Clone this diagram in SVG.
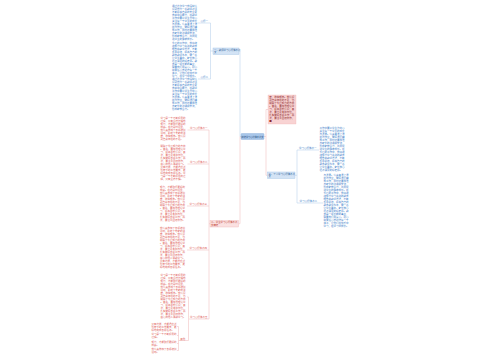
<svg xmlns="http://www.w3.org/2000/svg" width="500" height="360" viewBox="0 0 500 360">
<style>
text{font-family:"Noto Sans CJK SC","Noto Sans",sans-serif;font-size:10px;}
.bt{fill:#3d7ec9}
.rt{fill:#e0605a}
.dt{fill:#8f2b2b}
.nbt{fill:#2f5f96}
.nrt{fill:#c0392b}
.cb{stroke:#bcd3ec;stroke-width:0.6;fill:none}
.cr{stroke:#f2c2c2;stroke-width:0.6;fill:none}
.nb{fill:#d3e3f5;stroke:#9fc0e4;stroke-width:0.4}
.nr{fill:#fbe1e1;stroke:#f0b4b4;stroke-width:0.4}
</style>
<rect width="500" height="360" fill="#ffffff"/>
<g id="connectors">
<path class="cb" d="M241,136.5H240M240,51V136.5M240,51H239"/>
<path class="cr" d="M240,136.5V223.7H238.5"/>
<path class="cr" d="M264,136.5H266V109.5H268M266,136.5V175.3H267.5"/>
<path class="cb" d="M213,51H210.5M210.5,23V79M197.5,23H210.5M198,79H210.5"/>
<path class="cr" d="M210,223.7H209M209,130V319M187.5,130H209M187.5,164H209M187,206H209M187,250H209M189,319H209"/>
<path class="cr" d="M188.5,297V340.5M187,297H188.5M179.5,340.5H188.5M180,340.5H178.5M178.5,326.5V350.5M177,326.5H178.5M177,335.5H178.5M177,343.5H178.5M177,350.5H178.5"/>
<path class="cb" d="M295,175.3H297M297,150V203M297,150H319M297,203H323"/>
</g>
<g id="center">
<rect x="241" y="133.5" width="23" height="6" rx="0.8" fill="#a8c6e9" stroke="#86acd9" stroke-width="0.4"/>
<text transform="translate(241.6 137.6) scale(0.218)" style="fill:#22477a">精选学习心得体会范文</text>
</g>
<g id="node-left-1">
<rect class="nb" x="213" y="48" width="26" height="6.5"/>
<text class="nbt" transform="translate(214 50.7) scale(0.24)"><tspan x="0">一、教师学习心得体会范</tspan><tspan x="0" dy="11">文</tspan></text>
</g>
<g id="node-left-2">
<rect class="nr" x="210" y="220.5" width="28.5" height="6.5"/>
<text class="nrt" transform="translate(211 223.2) scale(0.24)"><tspan x="0">二、学生学习心得体会范</tspan><tspan x="0" dy="11">文精选</tspan></text>
</g>
<g id="node-right-1">
<rect x="268" y="95" width="28" height="29" fill="#f8d3d3" stroke="#eeb0b0" stroke-width="0.3"/>
<text class="dt" transform="translate(269.3 98.2) scale(0.25)"><tspan x="0">座，收获颇丰。我认识</tspan><tspan x="0" dy="12">到自身存在的不足，也</tspan><tspan x="0" dy="12">明确了今后努力的方向</tspan><tspan x="0" dy="12">。首先，要加强理论学</tspan><tspan x="0" dy="12">习，提高思想认识；其</tspan><tspan x="0" dy="12">次，要立足本职岗位，</tspan><tspan x="0" dy="12">扎实做好各项工作；再</tspan><tspan x="0" dy="12">次，要注重团结协作，</tspan><tspan x="0" dy="12">■</tspan></text>
</g>
<g id="node-right-2">
<rect class="nb" x="267.5" y="172" width="27.5" height="6.5"/>
<text class="nbt" transform="translate(268.5 174.7) scale(0.24)"><tspan x="0">三、个人学习心得体会范</tspan><tspan x="0" dy="11">文</tspan></text>
</g>
<g id="label-lu-1"><text class="bt" transform="translate(200.5 22.3) scale(0.25)">心得一</text></g>
<g id="label-lu-2"><text class="bt" transform="translate(200.5 78.3) scale(0.25)">心得二</text></g>
<g id="block-lu-1">
<text class="bt" transform="translate(172 7.4) scale(0.25)"><tspan x="0">通过这次学习我深刻认</tspan><tspan x="0" dy="12">识到作为一名教师必须</tspan><tspan x="0" dy="12">不断提高自身的专业素</tspan><tspan x="0" dy="12">养和综合能力，在教学</tspan><tspan x="0" dy="12">工作中要以学生为中心</tspan><tspan x="0" dy="12">关注每一个学生的成长</tspan><tspan x="0" dy="12">与发展。认真备课上课</tspan><tspan x="0" dy="12">批改作业，做好课后辅</tspan><tspan x="0" dy="12">导工作，同时还要加强</tspan><tspan x="0" dy="12">与家长的沟通和交流，</tspan><tspan x="0" dy="12">形成家校合力，共同促</tspan><tspan x="0" dy="12">进学生的健康成长。</tspan></text>
</g>
<g id="block-lu-2">
<text class="bt" transform="translate(172 44.4) scale(0.25)"><tspan x="0">今后的工作中，我将继</tspan><tspan x="0" dy="12">续努力学习先进的教育</tspan><tspan x="0" dy="12">理念和教学方法，不断</tspan><tspan x="0" dy="12">反思总结，提高自己的</tspan><tspan x="0" dy="12">教育教学水平，做一名</tspan><tspan x="0" dy="12">让学生喜欢、家长放心</tspan><tspan x="0" dy="12">社会满意的好老师。教</tspan><tspan x="0" dy="12">育是一项长期的事业，</tspan><tspan x="0" dy="12">需要我们用爱心、耐心</tspan><tspan x="0" dy="12">和责任心去对待每一个</tspan><tspan x="0" dy="12">孩子，让他们在快乐中</tspan><tspan x="0" dy="12">学习，在学习中成长。</tspan><tspan x="0" dy="12">通过这次学习我深刻认</tspan><tspan x="0" dy="12">识到作为一名教师必须</tspan><tspan x="0" dy="12">不断提高自身的专业素</tspan><tspan x="0" dy="12">养和综合能力，在教学</tspan><tspan x="0" dy="12">工作中要以学生为中心</tspan><tspan x="0" dy="12">关注每一个学生的成长</tspan><tspan x="0" dy="12">与发展。认真备课上课</tspan><tspan x="0" dy="12">批改作业，做好课后辅</tspan><tspan x="0" dy="12">导工作，同时还要加强</tspan><tspan x="0" dy="12">与家长的沟通和交流，</tspan><tspan x="0" dy="12">形成家校合力。</tspan></text>
</g>
<g id="label-ll-1"><text class="rt" transform="translate(190 129.3) scale(0.25)">学习心得体会一</text></g>
<g id="label-ll-2"><text class="rt" transform="translate(190 163.3) scale(0.25)">学习心得体会二</text></g>
<g id="label-ll-3"><text class="rt" transform="translate(189.5 205.3) scale(0.25)">学习心得体会三</text></g>
<g id="label-ll-4"><text class="rt" transform="translate(189.5 249.3) scale(0.25)">学习心得体会四</text></g>
<g id="label-ll-5"><text class="rt" transform="translate(190 318.3) scale(0.25)">学习心得体会五</text></g>
<g id="label-ll-6"><text class="rt" transform="translate(180.3 339.8) scale(0.25)">其他</text></g>
<g id="block-ll-1">
<text class="rt" transform="translate(160.5 119.4) scale(0.25)"><tspan x="0">学习是一个不断积累的</tspan><tspan x="0" dy="12">过程，只有坚持不懈地</tspan><tspan x="0" dy="12">努力，才能取得更好的</tspan><tspan x="0" dy="12">成绩。在这段时间里，</tspan><tspan x="0" dy="12">我认真参加了各项培训</tspan><tspan x="0" dy="12">活动，聆听了专家的讲</tspan><tspan x="0" dy="12">座，收获颇丰。我认识</tspan><tspan x="0" dy="12">到自身存在的不足。</tspan></text>
</g>
<g id="block-ll-2">
<text class="rt" transform="translate(160.5 147.4) scale(0.25)"><tspan x="0">明确了今后努力的方向</tspan><tspan x="0" dy="12">。首先，要加强理论学</tspan><tspan x="0" dy="12">习，提高思想认识；其</tspan><tspan x="0" dy="12">次，要立足本职岗位，</tspan><tspan x="0" dy="12">扎实做好各项工作；再</tspan><tspan x="0" dy="12">次，要注重团结协作，</tspan><tspan x="0" dy="12">虚心向他人请教学习。</tspan><tspan x="0" dy="12">只有这样，才能适应新</tspan><tspan x="0" dy="12">形势下的工作要求，更</tspan><tspan x="0" dy="12">好地完成各项任务。学</tspan><tspan x="0" dy="12">习是一个不断积累的过</tspan><tspan x="0" dy="12">程，只有坚持不懈。</tspan></text>
</g>
<g id="block-ll-3">
<text class="rt" transform="translate(160 188.4) scale(0.25)"><tspan x="0">努力，才能取得更好的</tspan><tspan x="0" dy="12">成绩。在这段时间里，</tspan><tspan x="0" dy="12">我认真参加了各项培训</tspan><tspan x="0" dy="12">活动，聆听了专家的讲</tspan><tspan x="0" dy="12">座，收获颇丰。我认识</tspan><tspan x="0" dy="12">到自身存在的不足，也</tspan><tspan x="0" dy="12">明确了今后努力的方向</tspan><tspan x="0" dy="12">。首先，要加强理论学</tspan><tspan x="0" dy="12">习，提高思想认识；其</tspan><tspan x="0" dy="12">次，要立足本职岗位，</tspan><tspan x="0" dy="12">扎实做好各项工作；再</tspan><tspan x="0" dy="12">次，要注重团结协作。</tspan></text>
</g>
<g id="block-ll-4">
<text class="rt" transform="translate(160 229.4) scale(0.25)"><tspan x="0">我认真参加了各项培训</tspan><tspan x="0" dy="12">活动，聆听了专家的讲</tspan><tspan x="0" dy="12">座，收获颇丰。我认识</tspan><tspan x="0" dy="12">到自身存在的不足，也</tspan><tspan x="0" dy="12">明确了今后努力的方向</tspan><tspan x="0" dy="12">。首先，要加强理论学</tspan><tspan x="0" dy="12">习，提高思想认识；其</tspan><tspan x="0" dy="12">次，要立足本职岗位，</tspan><tspan x="0" dy="12">扎实做好各项工作；再</tspan><tspan x="0" dy="12">次，要注重团结协作，</tspan><tspan x="0" dy="12">虚心向他人请教学习。</tspan><tspan x="0" dy="12">只有这样，才能适应新</tspan><tspan x="0" dy="12">形势下的工作要求，更</tspan><tspan x="0" dy="12">好地完成各项任务。</tspan></text>
</g>
<g id="block-ll-5">
<text class="rt" transform="translate(160.5 276.4) scale(0.25)"><tspan x="0">学习是一个不断积累的</tspan><tspan x="0" dy="12">过程，只有坚持不懈地</tspan><tspan x="0" dy="12">努力，才能取得更好的</tspan><tspan x="0" dy="12">成绩。在这段时间里，</tspan><tspan x="0" dy="12">我认真参加了各项培训</tspan><tspan x="0" dy="12">活动，聆听了专家的讲</tspan><tspan x="0" dy="12">座，收获颇丰。我认识</tspan><tspan x="0" dy="12">到自身存在的不足，也</tspan><tspan x="0" dy="12">明确了今后努力的方向</tspan><tspan x="0" dy="12">。首先，要加强理论学</tspan><tspan x="0" dy="12">习，提高思想认识；其</tspan><tspan x="0" dy="12">次，要立足本职岗位，</tspan><tspan x="0" dy="12">扎实做好各项工作；再</tspan><tspan x="0" dy="12">次，要注重团结协作，</tspan><tspan x="0" dy="12">虚心向他人请教学习。</tspan></text>
</g>
<g id="block-ll-6a">
<text class="rt" transform="translate(151.5 324.9) scale(0.25)"><tspan x="0">只有这样，才能适应新</tspan><tspan x="0" dy="12">形势下的工作要求，更</tspan><tspan x="0" dy="12">好地完成各项任务。</tspan></text>
</g>
<g id="block-ll-6b">
<text class="rt" transform="translate(151.5 335) scale(0.25)"><tspan x="0">学习是一个不断积累的</tspan><tspan x="0" dy="12">过程。</tspan></text>
</g>
<g id="block-ll-6c">
<text class="rt" transform="translate(151.5 343) scale(0.25)"><tspan x="0">努力，才能取得更好的</tspan><tspan x="0" dy="12">成绩。</tspan></text>
</g>
<g id="block-ll-6d">
<text class="rt" transform="translate(151.5 350) scale(0.25)"><tspan x="0">我认真参加了各项培训</tspan><tspan x="0" dy="12">活动。</tspan></text>
</g>
<g id="label-r-1"><text class="bt" transform="translate(299 149.3) scale(0.25)">学习心得体会一</text></g>
<g id="label-r-2"><text class="bt" transform="translate(299.5 202.3) scale(0.25)">学习心得体会二</text></g>
<g id="block-r-1">
<text class="bt" transform="translate(319.5 129.4) scale(0.25)"><tspan x="0">工作中要以学生为中心</tspan><tspan x="0" dy="12">关注每一个学生的成长</tspan><tspan x="0" dy="12">与发展。认真备课上课</tspan><tspan x="0" dy="12">批改作业，做好课后辅</tspan><tspan x="0" dy="12">导工作，同时还要加强</tspan><tspan x="0" dy="12">与家长的沟通和交流，</tspan><tspan x="0" dy="12">形成家校合力，共同促</tspan><tspan x="0" dy="12">进学生的健康成长。在</tspan><tspan x="0" dy="12">今后的工作中，我将继</tspan><tspan x="0" dy="12">续努力学习先进的教育</tspan><tspan x="0" dy="12">理念和教学方法，不断</tspan><tspan x="0" dy="12">反思总结，提高自己的</tspan><tspan x="0" dy="12">教育教学水平，做一名</tspan><tspan x="0" dy="12">让学生喜欢、家长放心</tspan><tspan x="0" dy="12">社会满意的好老师。</tspan></text>
</g>
<g id="block-r-2">
<text class="bt" transform="translate(323.5 176.4) scale(0.25)"><tspan x="0">与发展。认真备课上课</tspan><tspan x="0" dy="12">批改作业，做好课后辅</tspan><tspan x="0" dy="12">导工作，同时还要加强</tspan><tspan x="0" dy="12">与家长的沟通和交流，</tspan><tspan x="0" dy="12">形成家校合力，共同促</tspan><tspan x="0" dy="12">进学生的健康成长。在</tspan><tspan x="0" dy="12">今后的工作中，我将继</tspan><tspan x="0" dy="12">续努力学习先进的教育</tspan><tspan x="0" dy="12">理念和教学方法，不断</tspan><tspan x="0" dy="12">反思总结，提高自己的</tspan><tspan x="0" dy="12">教育教学水平，做一名</tspan><tspan x="0" dy="12">让学生喜欢、家长放心</tspan><tspan x="0" dy="12">社会满意的好老师。教</tspan><tspan x="0" dy="12">育是一项长期的事业，</tspan><tspan x="0" dy="12">需要我们用爱心、耐心</tspan><tspan x="0" dy="12">和责任心去对待每一个</tspan><tspan x="0" dy="12">孩子，让他们在快乐中</tspan><tspan x="0" dy="12">学习，在学习中成长。</tspan></text>
</g>
</svg>
